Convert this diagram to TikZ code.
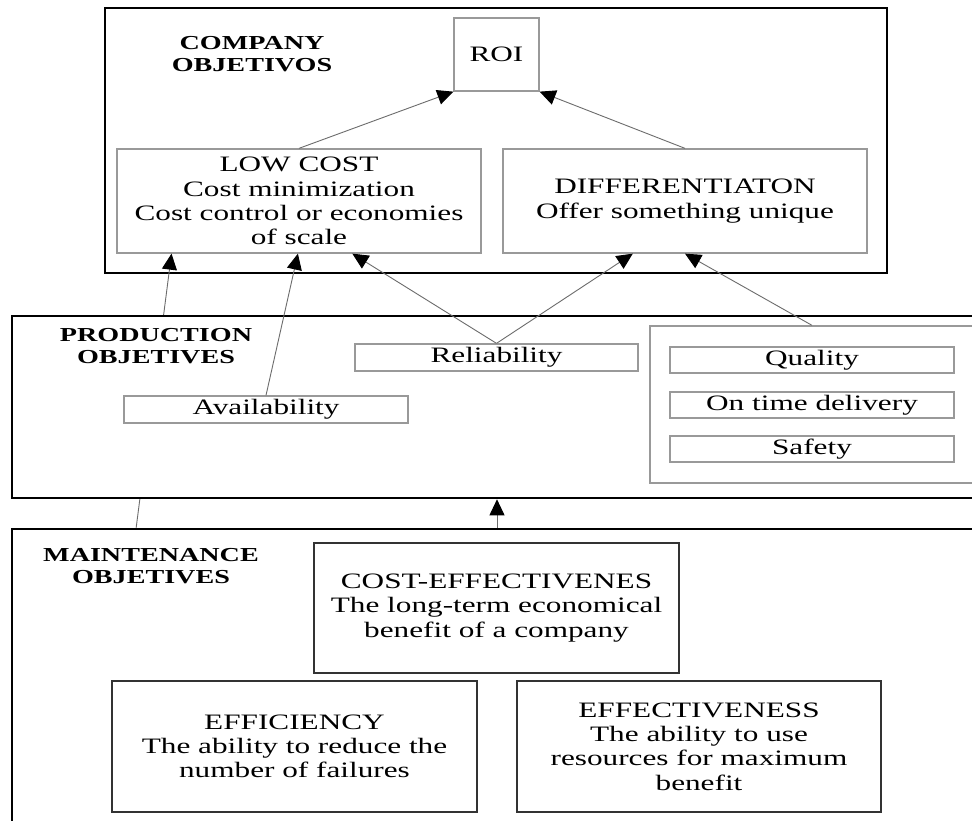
\documentclass[tikz,border=0pt]{standalone}
\usepackage{fontspec}
\setmainfont{Liberation Serif}[FakeStretch=1.42]
\usetikzlibrary{arrows.meta,calc}
\begin{document}
\begin{tikzpicture}[x=1pt,y=-1pt,
  body/.style={font=\fontsize{22}{24.3}\selectfont, align=center},
  head/.style={font=\fontsize{19.8}{21.5}\selectfont\bfseries, align=center, inner sep=0pt},
  layer/.style={draw=black, line width=2.6pt, fill=white, inner sep=0pt},
  gbox/.style={body, draw=gray!80, line width=1.3pt, fill=white, inner sep=0pt},
  dbox/.style={body, draw=black!80, line width=2pt, fill=white, inner sep=0pt},
  link/.style={draw=gray!85!black, line width=0.9pt,
    -{Triangle[length=16pt,width=15pt,color=black]}}
]
\clip (0,0) rectangle (972,820);
\fill[white] (0,0) rectangle (972,820);

% company level
\node[layer, minimum width=782, minimum height=265] (company) at (496,140.5) {};
\node[head] (companyT) at (252,54) {COMPANY\\OBJETIVOS};
\node[gbox, minimum width=85, minimum height=73] (roi) at (496.5,54.5) {ROI};
\node[gbox, minimum width=364, minimum height=104] (lowcost) at (299,201)
  {LOW COST\\Cost minimization\\Cost control or economies\\of scale};
\node[gbox, minimum width=364, minimum height=104] (diff) at (685,201)
  {DIFFERENTIATON\\Offer something unique};

% maintenance level
\node[layer, minimum width=970, minimum height=321] (maint) at (497,689.5) {};
\node[head] (maintT) at (151,566) {MAINTENANCE\\OBJETIVES};
\node[dbox, minimum width=365, minimum height=130] (costeff) at (496.5,608)
  {COST-EFFECTIVENES\\The long-term economical\\benefit of a company};
\node[dbox, minimum width=365, minimum height=131] (effic) at (294.5,746.5)
  {EFFICIENCY\\The ability to reduce the\\number of failures};
\node[dbox, minimum width=364, minimum height=131] (effect) at (699,746.5)
  {EFFECTIVENESS\\The ability to use\\resources for maximum\\benefit};

% attachment points on the lower edges
\coordinate (lcA) at ($(lowcost.south west)!0.151!(lowcost.south east)$);
\coordinate (lcB) at ($(lowcost.south west)!0.497!(lowcost.south east)$);
\coordinate (lcC) at ($(lowcost.south west)!0.646!(lowcost.south east)$);
\coordinate (dfA) at ($(diff.south west)!0.357!(diff.south east)$);
\coordinate (dfB) at ($(diff.south west)!0.500!(diff.south east)$);
\coordinate (mtA) at ($(maint.north west)!0.129!(maint.north east)$);

% maintenance feeds low cost directly, passing behind the production layer
\draw[link] (mtA) -- (lcA);

% production level
\node[layer, minimum width=970, minimum height=182] (prod) at (497,407) {};
\node[head] (prodT) at (156,346) {PRODUCTION\\OBJETIVES};
\node[gbox, minimum width=283, minimum height=27] (rel) at (496.5,357.5) {Reliability};
\node[gbox, minimum width=284, minimum height=27] (avail) at (266,409.5) {Availability};
\node[gbox, minimum width=324, minimum height=157] (group) at (812,404.5) {};
\node[gbox, minimum width=284, minimum height=26] (qual) at (812,360) {Quality};
\node[gbox, minimum width=284, minimum height=26] (ontime) at (812,405) {On time delivery};
\node[gbox, minimum width=284, minimum height=26] (safety) at (812,449) {Safety};

% connectors
\draw[link] (lowcost.north) -- (roi.south west);
\draw[link] (diff.north) -- (roi.south east);
\draw[link] (avail.north) -- (lcB);
\draw[link] (rel.north) -- (lcC);
\draw[link] (rel.north) -- (dfA);
\draw[link] (group.north) -- (dfB);
\draw[link] (maint.north) -- (prod.south);
\end{tikzpicture}
\end{document}
